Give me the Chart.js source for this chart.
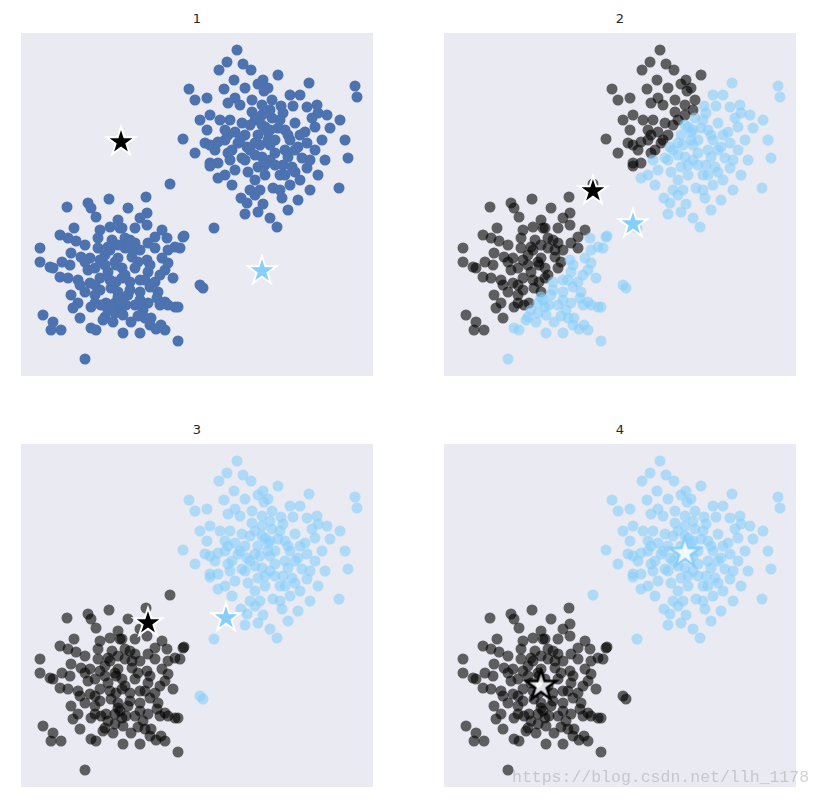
<!DOCTYPE html>
<html>
<head>
<meta charset="UTF-8">
<script src="https://cdn.jsdelivr.net/npm/chart.js@4.4.0/dist/chart.umd.min.js"></script>
<title>k-means</title>
<style>
  body { margin:0; background:#fff; width:823px; height:802px; position:relative; overflow:hidden; font-family:"DejaVu Sans", sans-serif; }
  .panel { position:absolute; width:352px; height:343px; background:#EAEAF2; }
  .ttl { position:absolute; width:352px; text-align:center; font-size:13px; line-height:15px; color:#262626; }
  #wm { position:absolute; z-index:10; left:512px; top:768px; font-family:"Liberation Mono", monospace; font-size:16.5px; color:rgba(165,165,165,0.5); white-space:nowrap; }
</style>
</head>
<body>
<div id="wm">https://blog.csdn.net/llh_1178</div>
<script>
// upper-right blob
const topX = [216,206,222,198,230,213,203,168,174,186,237,242,243,231,214,207,288,334,336,247,
  260,272,286,296,189,231,209,162,186,184,174,189,197,194,204,214,221,207,221,234,
  244,226,241,237,217,197,297,306,262,251,274,294,284,257,269,277,286,294,247,254,
  249,267,281,286,271,327,318,149,189,197,211,220,226,224,242,249,256,252,261,193,
  229,237,254,264,241,227,234,244,259,269,279,214,204,219,251,279,301,309,304,289,
  239,229,264,211,224,249,262,277,199,179,241,269,291,319,324,207,234,247,274,297,
  237,267,189,257,224,
  234,241,249,259,267,274,239,229,219,254,264,244,279,224,249,209,234,259,204,289];
const topY = [326,314,312,306,306,296,287,287,276,278,292,296,285,276,278,273,293,290,279,288,
  270,270,269,271,261,264,256,237,246,233,223,213,213,226,236,244,253,223,218,233,
  249,229,219,209,233,234,263,261,263,258,253,249,244,248,236,229,233,226,236,223,
  216,219,218,208,209,218,188,192,210,198,191,178,173,162,172,158,149,188,178,148,
  251,241,236,246,261,204,196,201,201,191,196,206,201,271,276,281,236,248,216,186,
  186,186,226,226,241,231,211,176,256,256,271,281,258,256,236,241,221,244,204,201,
  164,166,231,301,288,
  256,251,246,256,241,226,231,226,236,211,201,211,241,216,266,216,181,186,246,216];

// lower-left blob
const botX = [88,46,67,70,75,53,39,47,55,79,77,89,97,99,19,87,125,107,126,119,
  126,101,114,141,146,162,134,104,114,127,154,19,29,32,39,50,49,60,69,79,
  89,77,47,57,67,69,79,87,95,90,74,57,52,70,85,97,95,64,50,104,
  119,134,147,159,141,147,144,97,111,126,101,114,127,101,109,97,107,119,134,137,
  136,127,144,152,114,101,154,179,182,22,32,30,40,70,75,84,92,94,102,110,
  102,119,122,129,130,135,144,140,147,157,139,157,64,74,80,94,105,163,84,109,
  74,64,119,129,91,41,117,59,
  84,94,104,117,124,89,79,109,99,87,119,129,64,74,139,111,97,59,82,124];
const botY = [177,169,173,168,159,148,141,138,135,146,138,149,156,148,128,129,179,168,163,158,
  151,148,148,146,138,139,139,138,133,133,129,114,109,108,99,123,111,119,118,116,
  126,128,98,96,106,93,98,104,111,88,81,73,68,69,73,79,94,84,81,128,
  126,128,126,128,118,113,106,118,119,116,108,108,104,98,94,84,81,84,94,84,
  78,73,74,98,71,69,69,91,88,61,54,46,46,48,46,59,54,63,61,54,
  43,43,66,51,58,47,46,51,71,69,71,35,17,73,71,73,71,140,111,136,
  108,131,96,89,136,114,60,58,
  121,114,101,114,96,96,86,86,76,66,76,111,114,91,101,126,131,91,56,58];

// centroids shown in each step (black, light blue)
const titles = ['1', '2', '3', '4'];
const blackStarX = [100, 149, 127, 97];
const blackStarY = [234, 185, 164, 101];
const blueStarX = [241, 189, 205, 241];
const blueStarY = [105, 152, 169, 234];

const allX = topX.concat(botX);
const allY = topY.concat(botY);

const BLUE = '#4C72B0';
const LIGHT = '#87CEFA';

function starImg(fill, stroke, r, lw) {
  const c = document.createElement('canvas');
  const s = Math.ceil(2 * (r + lw) + 2);
  c.width = s; c.height = s;
  const g = c.getContext('2d');
  g.translate(s / 2, s / 2);
  g.beginPath();
  for (let k = 0; k < 10; k++) {
    const rr = k % 2 === 0 ? r : r * 0.382;
    const a = -Math.PI / 2 + k * Math.PI / 5;
    const px = rr * Math.cos(a), py = rr * Math.sin(a);
    if (k === 0) g.moveTo(px, py); else g.lineTo(px, py);
  }
  g.closePath();
  g.lineJoin = 'miter';
  g.fillStyle = fill;
  g.fill();
  g.lineWidth = lw;
  g.strokeStyle = stroke;
  g.stroke();
  return c;
}

const pos = [[21, 33], [444, 33], [21, 444], [444, 444]];

for (let p = 0; p < 4; p++) {
  const t = document.createElement('div');
  t.className = 'ttl';
  t.style.left = pos[p][0] + 'px';
  t.style.top = (pos[p][1] - 22) + 'px';
  t.textContent = titles[p];
  document.body.appendChild(t);

  const wrap = document.createElement('div');
  wrap.className = 'panel';
  wrap.style.left = pos[p][0] + 'px';
  wrap.style.top = pos[p][1] + 'px';
  const cv = document.createElement('canvas');
  cv.width = 352; cv.height = 343;
  wrap.appendChild(cv);
  document.body.appendChild(wrap);

  const blk = [], lgt = [];
  for (let i = 0; i < allX.length; i++) {
    const pt = { x: allX[i], y: allY[i] };
    if (p === 0) { lgt.push(pt); continue; }
    const d0 = (allX[i] - blackStarX[p]) ** 2 + (allY[i] - blackStarY[p]) ** 2;
    const d1 = (allX[i] - blueStarX[p]) ** 2 + (allY[i] - blueStarY[p]) ** 2;
    (d0 < d1 ? blk : lgt).push(pt);
  }

  let sBlack, sBlue;
  if (p < 3) {
    sBlack = starImg('#000', '#fff', 15, 2);
    sBlue = starImg(LIGHT, '#fff', 15, 2);
  } else {
    sBlack = starImg('rgba(255,255,255,0.85)', '#000', 16, 2.5);
    sBlue = starImg('rgba(255,255,255,0.85)', LIGHT, 16, 2.5);
  }

  new Chart(cv.getContext('2d'), {
    type: 'scatter',
    data: {
      datasets: [
        { data: [{ x: blackStarX[p], y: blackStarY[p] }], pointStyle: sBlack, pointRadius: 15, order: 0 },
        { data: [{ x: blueStarX[p], y: blueStarY[p] }], pointStyle: sBlue, pointRadius: 15, order: 0 },
        { data: blk, pointRadius: 5.5, borderWidth: 0, backgroundColor: 'rgba(0,0,0,0.6)', order: 2 },
        { data: lgt, pointRadius: 5.5, borderWidth: 0,
          backgroundColor: p === 0 ? BLUE : 'rgba(135,206,250,0.6)', order: 1 }
      ]
    },
    options: {
      responsive: false,
      animation: false,
      layout: { padding: 0, autoPadding: false },
      plugins: { legend: { display: false }, tooltip: { enabled: false } },
      scales: {
        x: { type: 'linear', min: 0, max: 352, display: false },
        y: { type: 'linear', min: 0, max: 343, display: false }
      }
    }
  });
}
</script>
</body>
</html>
